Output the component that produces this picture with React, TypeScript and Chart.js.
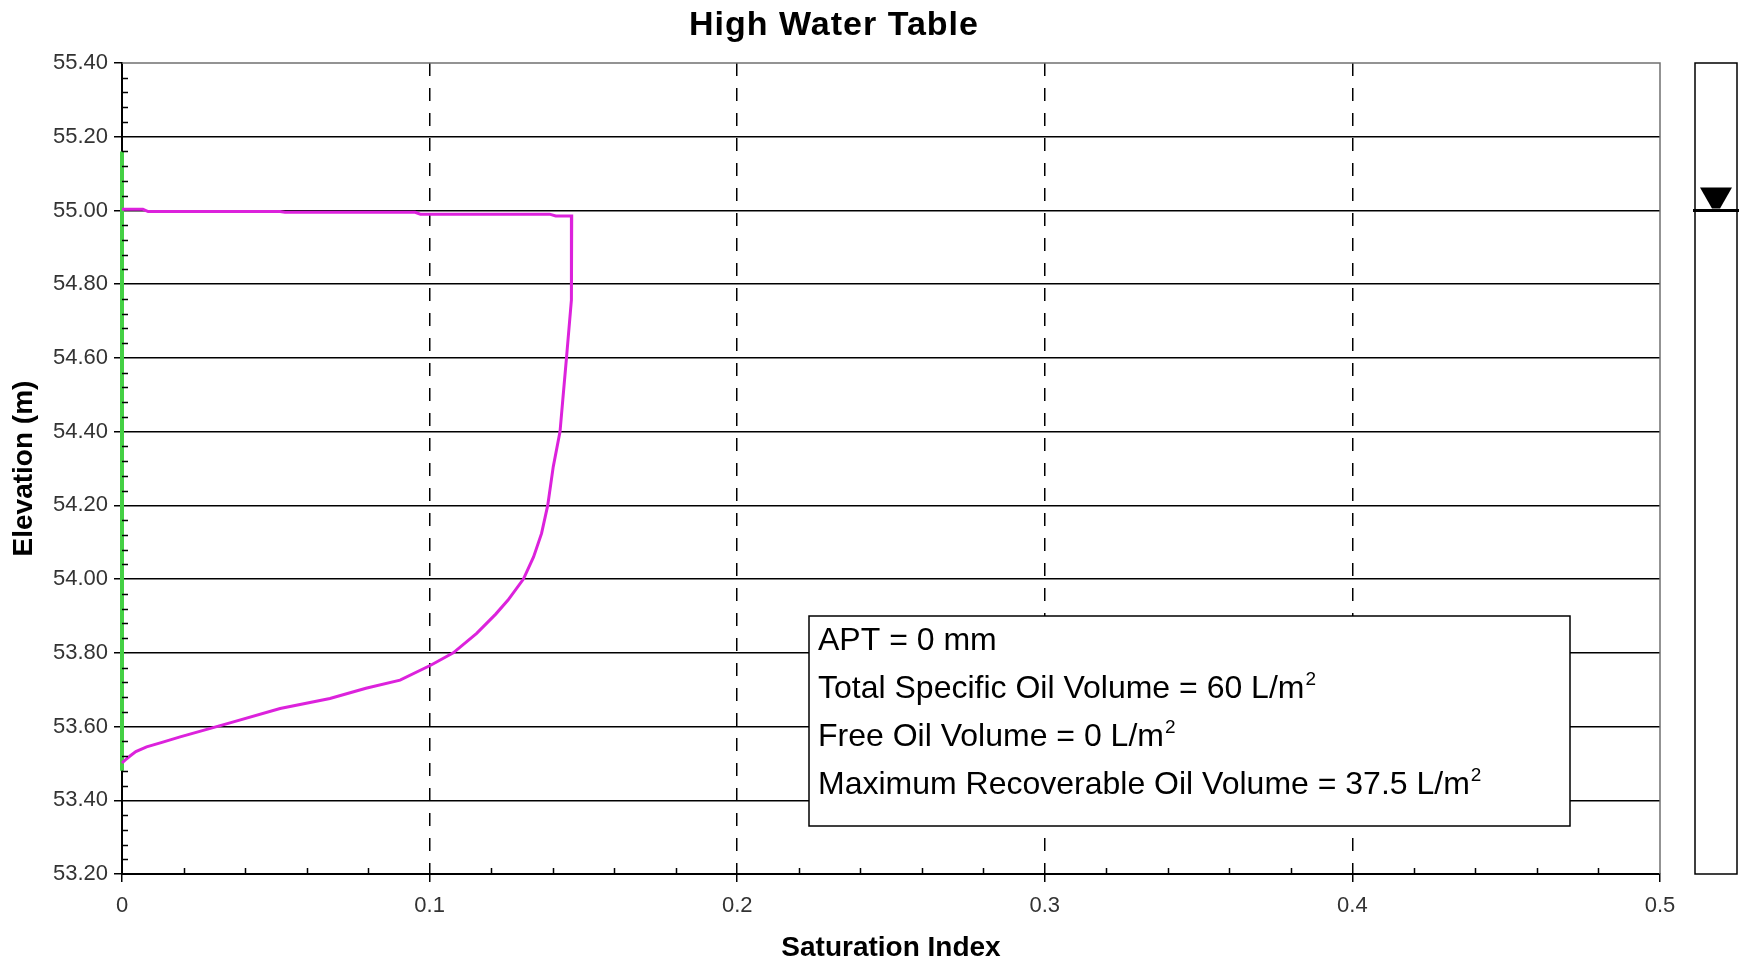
import React, { useEffect, useRef } from 'react';
import { Chart, registerables } from 'chart.js';

Chart.register(...registerables);

const chartTitle = 'High Water Table';
const xAxisTitle = 'Saturation Index';
const yAxisTitle = 'Elevation (m)';

const xTickValues = [0, 0.1, 0.2, 0.3, 0.4, 0.5];
const yTickValues = [53.2, 53.4, 53.6, 53.8, 54.0, 54.2, 54.4, 54.6, 54.8, 55.0, 55.2, 55.4];

// Oil saturation profile (magenta)
const saturationX = [
  0, 0.0068, 0.0085, 0.0514, 0.053, 0.0953, 0.097, 0.139, 0.141, 0.1462,
  0.1462, 0.146, 0.1445, 0.1433, 0.1424, 0.1402, 0.1384, 0.1364, 0.1338, 0.1305,
  0.1255, 0.1215, 0.1153, 0.1077, 0.1005, 0.0904, 0.0793, 0.0676, 0.0514, 0.0351,
  0.0189, 0.013, 0.008, 0.0045, 0.0026, 0.001, 0,
];
const saturationElevation = [
  55.003, 55.003, 54.997, 54.997, 54.995, 54.995, 54.99, 54.99, 54.985, 54.985,
  54.8, 54.757, 54.6, 54.486, 54.4, 54.305, 54.2, 54.124, 54.06, 54.0,
  53.943, 53.905, 53.853, 53.8, 53.767, 53.726, 53.704, 53.676, 53.649, 53.61,
  53.572, 53.557, 53.545, 53.532, 53.52, 53.509, 53.501,
];

// Green vertical profile at zero saturation
const zeroLineX = [0, 0];
const zeroLineElevation = [53.48, 55.16];

const waterTableElevation = 55.0;

const infoTexts = [
  'APT = 0 mm',
  'Total Specific Oil Volume = 60 L/m',
  'Free Oil Volume = 0 L/m',
  'Maximum Recoverable Oil Volume = 37.5 L/m',
];
const infoSuperscripts = ['', '2', '2', '2'];

const FONT = "'Liberation Sans', Arial, sans-serif";

const decorations = {
  id: 'decorations',
  beforeDraw(chart: any) {
    const { ctx, width, height } = chart;
    ctx.save();
    ctx.fillStyle = '#ffffff';
    ctx.fillRect(0, 0, width, height);
    ctx.restore();
  },
  afterDatasetsDraw(chart: any) {
    const { ctx, chartArea: ca, scales } = chart;
    const xs = scales.x;
    const ys = scales.y;
    ctx.save();

    // top and right frame
    ctx.strokeStyle = '#707070';
    ctx.lineWidth = 1.5;
    ctx.beginPath();
    ctx.moveTo(ca.left, ca.top);
    ctx.lineTo(ca.right, ca.top);
    ctx.lineTo(ca.right, ca.bottom);
    ctx.stroke();

    // minor ticks
    ctx.strokeStyle = '#000';
    ctx.lineWidth = 1.5;
    ctx.beginPath();
    for (let i = 1; i < 55; i++) {
      if (i % 5 === 0) continue;
      const y = Math.round(ys.getPixelForValue(53.2 + i * 0.04)) + 0.5;
      ctx.moveTo(ca.left, y);
      ctx.lineTo(ca.left + 6, y);
    }
    for (let i = 1; i < 25; i++) {
      if (i % 5 === 0) continue;
      const x = Math.round(xs.getPixelForValue(i * 0.02)) + 0.5;
      ctx.moveTo(x, ca.bottom);
      ctx.lineTo(x, ca.bottom - 6);
    }
    ctx.stroke();

    // water level gauge on the right
    const bx0 = ca.right + 35;
    const bx1 = ca.right + 77;
    ctx.strokeStyle = '#000';
    ctx.lineWidth = 1.5;
    ctx.strokeRect(bx0, ca.top, bx1 - bx0, ca.bottom - ca.top);
    const wy = ys.getPixelForValue(waterTableElevation);
    ctx.lineWidth = 3;
    ctx.beginPath();
    ctx.moveTo(bx0 - 2, wy);
    ctx.lineTo(bx1 + 2, wy);
    ctx.stroke();
    const cx = (bx0 + bx1) / 2;
    ctx.fillStyle = '#000';
    ctx.beginPath();
    ctx.moveTo(cx - 16, wy - 23);
    ctx.lineTo(cx + 16, wy - 23);
    ctx.lineTo(cx + 4, wy - 2);
    ctx.lineTo(cx - 4, wy - 2);
    ctx.closePath();
    ctx.fill();

    // info box
    const tb = { x: 809, y: 616, w: 761, h: 210 };
    ctx.fillStyle = '#fff';
    ctx.fillRect(tb.x, tb.y, tb.w, tb.h);
    ctx.strokeStyle = '#000';
    ctx.lineWidth = 1.5;
    ctx.strokeRect(tb.x, tb.y, tb.w, tb.h);
    ctx.fillStyle = '#000';
    ctx.textBaseline = 'alphabetic';
    ctx.textAlign = 'left';
    infoTexts.forEach((t, i) => {
      const by = 650 + i * 48;
      ctx.font = `32px ${FONT}`;
      ctx.fillText(t, 818, by);
      const w = ctx.measureText(t).width;
      if (infoSuperscripts[i]) {
        ctx.font = `19px ${FONT}`;
        ctx.fillText(infoSuperscripts[i], 818 + w + 1, by - 13);
      }
    });

    // title
    ctx.font = `bold 34px ${FONT}`;
    try {
      (ctx as any).letterSpacing = '1px';
    } catch (e) {}
    ctx.textAlign = 'center';
    ctx.textBaseline = 'middle';
    ctx.fillText(chartTitle, 834, 26);

    ctx.restore();
  },
};

export default function App() {
  const canvasRef = useRef<HTMLCanvasElement | null>(null);

  useEffect(() => {
    document.body.style.margin = '0';
    const canvas = canvasRef.current;
    if (!canvas) return;
    Chart.defaults.font.family = FONT;

    const magenta = saturationX.map((x, i) => ({ x, y: saturationElevation[i] }));
    const green = zeroLineX.map((x, i) => ({ x, y: zeroLineElevation[i] }));

    const chart = new Chart(canvas, {
      type: 'scatter',
      data: {
        datasets: [
          {
            data: magenta,
            showLine: true,
            borderColor: '#dc22dc',
            borderWidth: 3,
            pointRadius: 0,
            tension: 0,
            clip: false,
          },
          {
            data: green,
            showLine: true,
            borderColor: '#44d044',
            borderWidth: 4,
            pointRadius: 0,
            clip: false,
          },
        ],
      },
      options: {
        responsive: false,
        animation: false,
        events: [],
        layout: { padding: { left: 0, right: 80, top: 63, bottom: 0 } },
        plugins: {
          legend: { display: false },
          tooltip: { enabled: false },
          title: { display: false },
        },
        scales: {
          x: {
            type: 'linear',
            min: 0,
            max: 0.5,
            afterBuildTicks: (s: any) => {
              s.ticks = xTickValues.map((v) => ({ value: v }));
            },
            afterFit: (s: any) => {
              s.height = 87;
            },
            ticks: {
              color: '#333',
              font: { size: 22, family: FONT },
              padding: 11,
              maxRotation: 0,
              callback: (v: any) => String(Math.round(Number(v) * 10) / 10),
            },
            grid: {
              color: (c: any) =>
                c.tick && (c.tick.value === 0 || c.tick.value === 0.5) ? 'rgba(0,0,0,0)' : '#000',
              lineWidth: 1.5,
              tickColor: '#000',
              tickLength: 8,
              tickWidth: 1.5,
            },
            border: { display: true, color: '#000', width: 2, dash: [13, 12] },
            title: {
              display: true,
              text: xAxisTitle,
              color: '#000',
              font: { size: 28, weight: 'bold', family: FONT, lineHeight: 0.9 },
              padding: { top: 0, bottom: 0 },
            },
          },
          y: {
            type: 'linear',
            min: 53.2,
            max: 55.4,
            afterBuildTicks: (s: any) => {
              s.ticks = yTickValues.map((v) => ({ value: v }));
            },
            afterFit: (s: any) => {
              s.width = 122;
            },
            ticks: {
              color: '#333',
              font: { size: 22, family: FONT },
              padding: 6,
              callback: (v: any) => Number(v).toFixed(2),
            },
            grid: {
              color: (c: any) =>
                c.tick && Math.abs(c.tick.value - 55.4) < 1e-6 ? 'rgba(0,0,0,0)' : '#000',
              lineWidth: 1.5,
              tickColor: '#000',
              tickLength: 8,
              tickWidth: 1.5,
            },
            border: { display: true, color: '#000', width: 2 },
            title: {
              display: true,
              text: yAxisTitle,
              color: '#000',
              font: { size: 28, weight: 'bold', family: FONT, lineHeight: 1 },
              padding: { top: 10, bottom: 0 },
            },
          },
        },
      },
      plugins: [decorations],
    } as any);

    return () => chart.destroy();
  }, []);

  return (
    <div style={{ width: 1740, height: 961, overflow: 'hidden', background: '#fff' }}>
      <canvas ref={canvasRef} width={1740} height={961} style={{ display: 'block' }} />
    </div>
  );
}
